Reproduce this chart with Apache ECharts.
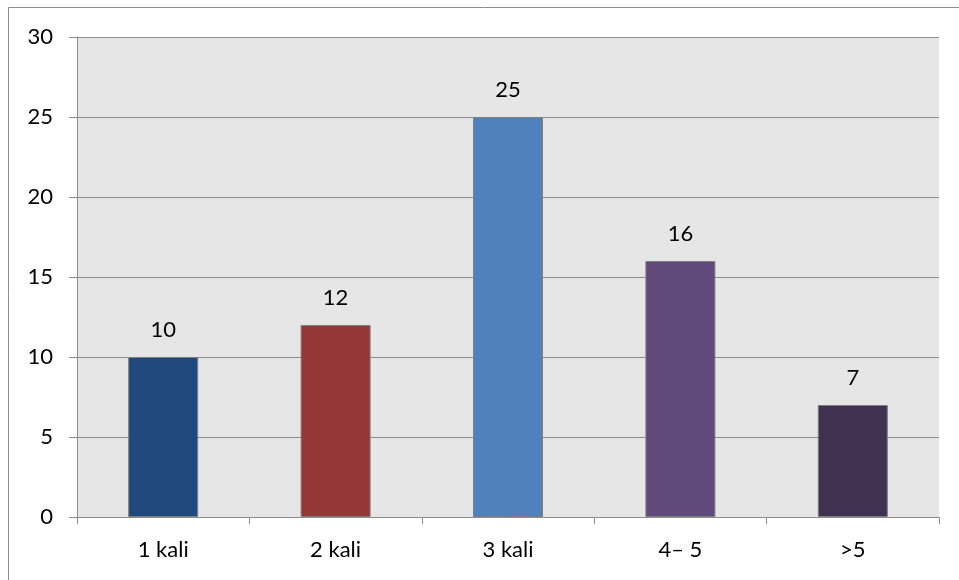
<!DOCTYPE html>
<html><head><meta charset="utf-8">
<script src="https://cdn.jsdelivr.net/npm/echarts@6/dist/echarts.min.js"></script>
<style>html,body{margin:0;padding:0;background:#fff}#c{width:959px;height:580px}</style>
</head><body><div id="c"></div>
<script>
const categories = ['1 kali', '2 kali', '3 kali', '4\u2013 5', '>5'];
const values = [10, 12, 25, 16, 7];
const barColors = ['#1f497d', '#953735', '#4f81bd', '#604a7b', '#403151'];
const yTicks = [0, 5, 10, 15, 20, 25, 30];

const chart = echarts.init(document.getElementById('c'), null, {renderer: 'canvas'});
const font = 'Lato, "Open Sans", sans-serif';
chart.setOption({
  animation: false,
  backgroundColor: '#fff',
  graphic: [{
    type: 'rect', shape: {x: 8.5, y: 7.5, width: 1000, height: 1000},
    style: {fill: 'none', stroke: '#8c8c8c', lineWidth: 1}, silent: true
  }],
  grid: {left: 77, top: 37, right: 20, bottom: 63, show: true, backgroundColor: '#e6e6e6', borderWidth: 0},
  xAxis: {
    type: 'category', data: categories,
    axisLine: {show: true, lineStyle: {color: '#8c8c8c', width: 1}},
    axisTick: {show: true, alignWithLabel: false, length: 7, lineStyle: {color: '#8c8c8c'}},
    axisLabel: {color: '#000', fontSize: 22, fontFamily: font, margin: 22},
    splitLine: {show: false}
  },
  yAxis: {
    type: 'value', min: yTicks[0], max: yTicks[yTicks.length - 1], interval: 5,
    axisLine: {show: true, lineStyle: {color: '#8c8c8c', width: 1}},
    axisTick: {show: true, inside: false, length: 8, lineStyle: {color: '#8c8c8c'}},
    axisLabel: {color: '#000', fontSize: 22, fontFamily: font, margin: 24},
    splitLine: {show: true, lineStyle: {color: '#8c8c8c', width: 1}}
  },
  series: [{
    type: 'bar', barWidth: '40.6%',
    data: values.map((v, i) => ({value: v, itemStyle: {color: barColors[i]}})),
    itemStyle: {borderColor: '#7f7f7f', borderWidth: 1},
    label: {show: true, position: 'top', distance: 16, color: '#000', fontSize: 22, fontFamily: font}
  }]
});
</script></body></html>
